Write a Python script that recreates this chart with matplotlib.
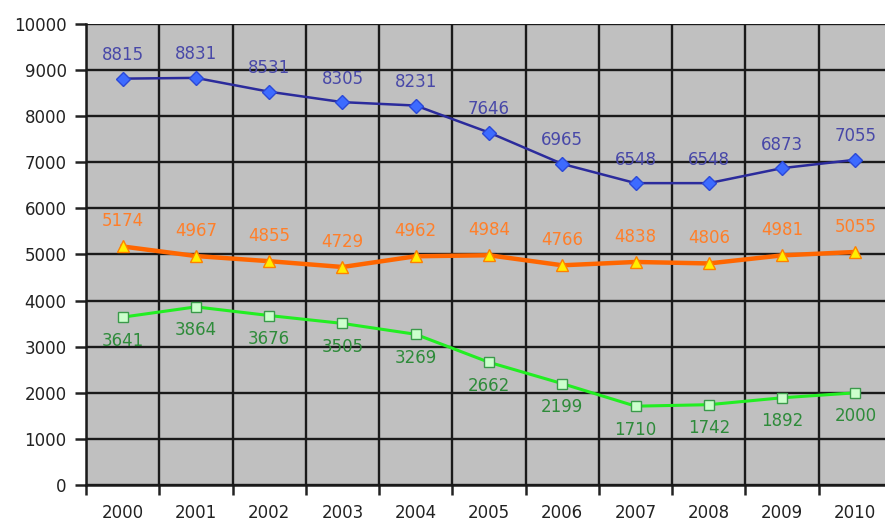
import numpy as np
import matplotlib
matplotlib.use('Agg')
import matplotlib.pyplot as plt

years = ['2000', '2001', '2002', '2003', '2004', '2005', '2006', '2007', '2008', '2009', '2010']
blue_vals = [8815, 8831, 8531, 8305, 8231, 7646, 6965, 6548, 6548, 6873, 7055]
orange_vals = [5174, 4967, 4855, 4729, 4962, 4984, 4766, 4838, 4806, 4981, 5055]
green_vals = [3641, 3864, 3676, 3505, 3269, 2662, 2199, 1710, 1742, 1892, 2000]

plt.rcParams['font.family'] = ['DejaVu Sans']

fig = plt.figure(figsize=(8.85, 5.22), dpi=100)
# plot area runs past the right edge of the picture, as in the original
ax = fig.add_axes([86 / 885, 1 - 485 / 522, 806 / 885, 461 / 522])
ax.set_facecolor('#c0c0c0')

x = np.arange(len(years))

ax.plot(x, blue_vals, color='#2b2b9c', linewidth=1.8, marker='D', markersize=7,
        markerfacecolor='#3d6bff', markeredgecolor='#2a48d8', zorder=4)
ax.plot(x, orange_vals, color='#ff6600', linewidth=3.2, marker='^', markersize=8,
        markerfacecolor='#ffee00', markeredgecolor='#ff8000', zorder=4)
ax.plot(x, green_vals, color='#22ee22', linewidth=2.2, marker='s', markersize=7.5,
        markerfacecolor='#ccffcc', markeredgecolor='#3a9a4a', zorder=4)

for xi, v in zip(x, blue_vals):
    ax.annotate(str(v), (xi, v), xytext=(0, 17), textcoords='offset points',
                ha='center', va='center', fontsize=12, color='#4848a8')
for xi, v in zip(x, orange_vals):
    ax.annotate(str(v), (xi, v), xytext=(0, 18), textcoords='offset points',
                ha='center', va='center', fontsize=12, color='#ff7f2a')
for xi, v in zip(x, green_vals):
    ax.annotate(str(v), (xi, v), xytext=(0, -17), textcoords='offset points',
                ha='center', va='center', fontsize=12, color='#2e8b3a')

ax.set_xlim(-0.5, len(years) - 0.5)
ax.set_ylim(0, 10000)
ax.set_yticks(np.arange(0, 10001, 1000))
ax.set_xticks(np.arange(-0.5, len(years), 1.0))
ax.set_xticklabels([])
ax.set_xticks(x, minor=True)
ax.set_xticklabels(years, minor=True)
ax.tick_params(axis='x', which='minor', length=0, pad=14, labelsize=12, labelcolor='#222222')
ax.tick_params(axis='x', which='major', length=7, width=1.8, color='#222222')
ax.tick_params(axis='y', length=8, width=1.8, color='#222222', pad=6,
               labelsize=12, labelcolor='#222222')

ax.grid(True, which='major', color='#1a1a1a', linewidth=1.7, zorder=1)
ax.set_axisbelow(True)
for side in ['top', 'right']:
    ax.spines[side].set_visible(False)
for side in ['left', 'bottom']:
    ax.spines[side].set_color('#1a1a1a')
    ax.spines[side].set_linewidth(1.8)

fig.savefig('out.png', dpi=100)
